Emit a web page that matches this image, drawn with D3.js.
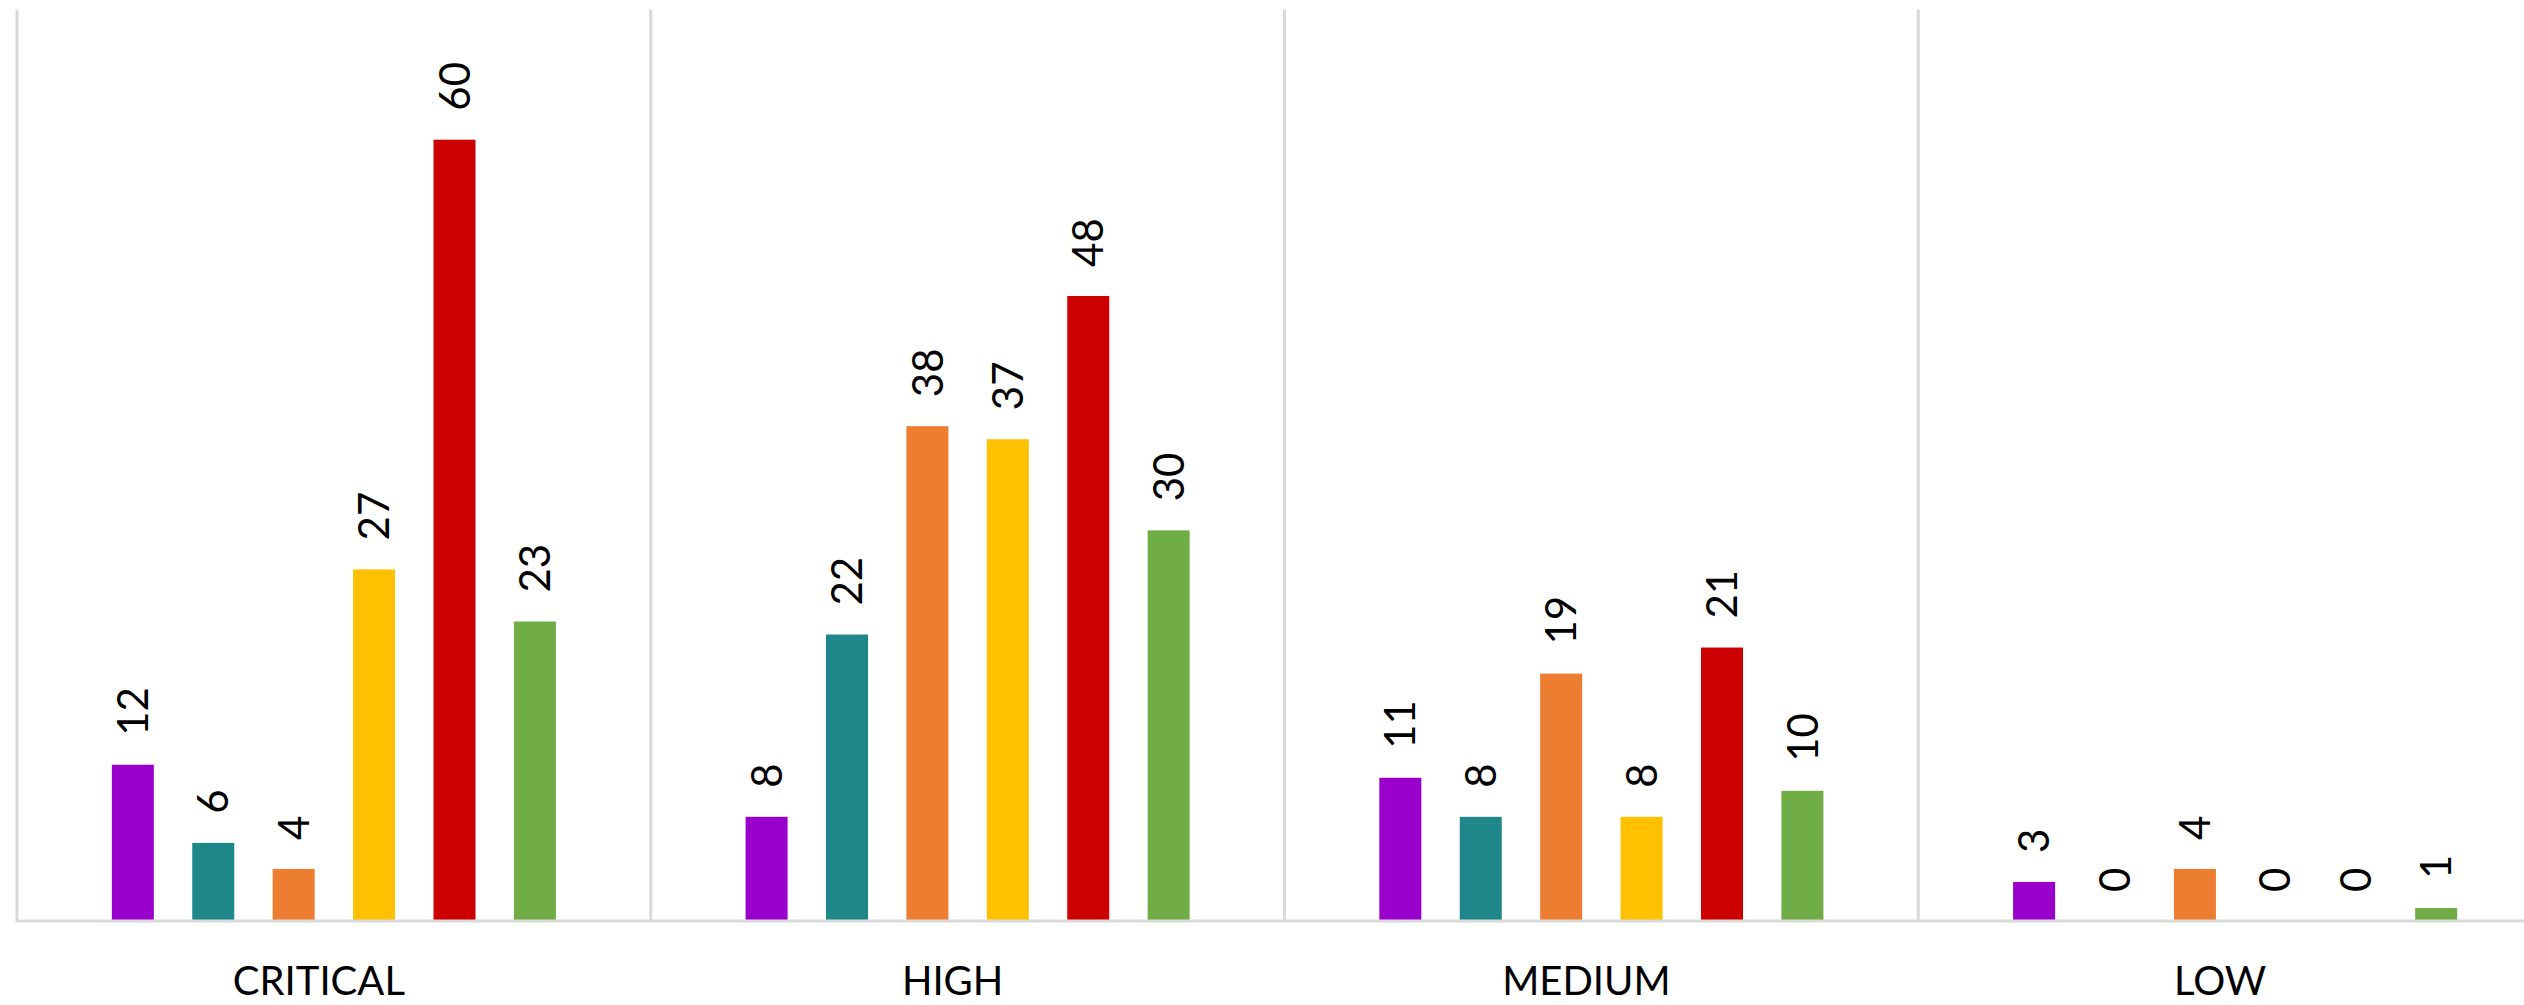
<!DOCTYPE html>
<html>
<head>
<meta charset="utf-8">
<script src="https://cdn.jsdelivr.net/npm/d3@7"></script>
<style>
  html, body { margin: 0; padding: 0; background: #fff; }
  svg { display: block; }
  text { font-family: Lato, "Open Sans", sans-serif; fill: #000; }
</style>
</head>
<body>
<svg id="chart" width="2524" height="1005"></svg>
<script>
const categories = ["CRITICAL", "HIGH", "MEDIUM", "LOW"];
const seriesNames = ["Series 1", "Series 2", "Series 3", "Series 4", "Series 5", "Series 6"];
const seriesColors = ["#9900CC", "#1F868A", "#ED7D31", "#FFC000", "#CC0000", "#70AD47"];
const values = [
  [12, 6, 4, 27, 60, 23],   // CRITICAL
  [8, 22, 38, 37, 48, 30],  // HIGH
  [11, 8, 19, 8, 21, 10],   // MEDIUM
  [3, 0, 4, 0, 0, 1]        // LOW
];
const yMax = 70;

const svg = d3.select("#chart");
const plotLeft = 17, plotRight = 2552, plotTop = 9.5, plotBottom = 921;

const x = d3.scaleBand().domain(categories).range([plotLeft, plotRight]).padding(0);
const y = d3.scaleLinear().domain([0, yMax]).range([plotBottom, plotTop]);

const groupW = x.bandwidth() * 0.7613;
const inner = d3.scaleBand().domain(seriesNames)
  .range([(x.bandwidth() - groupW) / 2, (x.bandwidth() + groupW) / 2])
  .paddingInner(0.4776).paddingOuter(0.2388);

const gridColor = "#d9d9d9";

// vertical category separators
svg.append("g").selectAll("line")
  .data(categories)
  .join("line")
  .attr("x1", d => x(d)).attr("x2", d => x(d))
  .attr("y1", y(yMax)).attr("y2", y(0))
  .attr("stroke", gridColor).attr("stroke-width", 3);

// bars
const groups = svg.append("g").selectAll("g")
  .data(categories)
  .join("g")
  .attr("transform", d => `translate(${x(d)},0)`);

groups.selectAll("rect")
  .data((d, i) => values[i].map((v, j) => ({ s: seriesNames[j], v, c: seriesColors[j] })))
  .join("rect")
  .attr("x", d => inner(d.s))
  .attr("width", inner.bandwidth())
  .attr("y", d => y(d.v))
  .attr("height", d => y(0) - y(d.v))
  .attr("fill", d => d.c);

// value labels (rotated)
groups.selectAll("text")
  .data((d, i) => values[i].map((v, j) => ({ s: seriesNames[j], v })))
  .join("text")
  .attr("transform", d => `translate(${inner(d.s) + inner.bandwidth() / 2},${y(d.v) - 29}) rotate(-90)`)
  .attr("dy", "0.36em")
  .attr("text-anchor", "start")
  .style("font-size", "42px")
  .text(d => d.v);

// x axis baseline
svg.append("line")
  .attr("x1", plotLeft - 1.5).attr("x2", plotRight)
  .attr("y1", y(0)).attr("y2", y(0))
  .attr("stroke", gridColor).attr("stroke-width", 3);

// category labels
svg.append("g").selectAll("text")
  .data(categories)
  .join("text")
  .attr("x", d => x(d) + x.bandwidth() / 2 - 15)
  .attr("y", 995)
  .attr("text-anchor", "middle")
  .style("font-size", "40px")
  .text(d => d);
</script>
</body>
</html>
